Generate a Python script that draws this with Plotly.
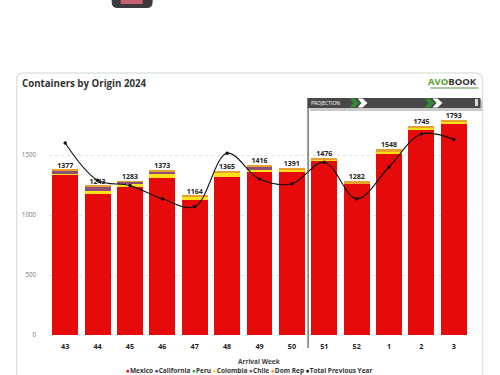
import plotly.graph_objects as go

weeks = ["43", "44", "45", "46", "47", "48", "49", "50", "51", "52", "1", "2", "3"]
mexico = [1335, 1175, 1235, 1308, 1125, 1319, 1365, 1365, 1450, 1260, 1515, 1715, 1765]
california = [3, 0, 0, 0, 0, 0, 0, 0, 0, 0, 0, 0, 0]
peru = [0, 0, 0, 0, 0, 0, 0, 0, 0, 0, 0, 0, 0]
colombia = [4, 25, 25, 32, 30, 27, 8, 10, 10, 6, 12, 10, 8]
chile = [28, 35, 15, 22, 0, 0, 30, 0, 0, 0, 0, 0, 0]
dom_rep = [7, 8, 8, 11, 9, 19, 13, 16, 16, 16, 21, 20, 20]
totals = [1377, 1243, 1283, 1373, 1164, 1365, 1416, 1391, 1476, 1282, 1548, 1745, 1793]
previous_year = [1600, 1290, 1245, 1135, 1070, 1515, 1300, 1260, 1440, 1135, 1400, 1675, 1630]

series = [
    ("Mexico", mexico, "#e60a0a"),
    ("California", california, "#3a3fc4"),
    ("Peru", peru, "#3fae49"),
    ("Colombia", colombia, "#ffe11a"),
    ("Chile", chile, "#8d4f78"),
    ("Dom Rep", dom_rep, "#e8a030"),
]
FONT = "Open Sans"
L, R, T, B = 49.3, 29.5, 90, 40
W, H = 500, 375
PW, PH = W - L - R, H - T - B


def px(x):
    return (x - L) / PW


def py(y):
    return 1 - (y - T) / PH


def path(points):
    return "M" + " L".join(f"{px(x):.4f},{py(y):.4f}" for x, y in points) + " Z"


def rect(x0, y0, x1, y1, fill, layer="above", line=None):
    return dict(type="rect", xref="paper", yref="paper", x0=px(x0), x1=px(x1), y0=py(y0), y1=py(y1),
                fillcolor=fill, line=dict(width=0 if line is None else 1, color=line or fill), layer=layer)


def chevron(x, fill):
    return dict(type="path", xref="paper", yref="paper", layer="above", fillcolor=fill, line=dict(width=0),
                path=path([(x, 98.5), (x + 5, 98.5), (x + 10, 103), (x + 5, 107.5), (x, 107.5), (x + 4, 103)]))


def rounded(x0, y0, x1, y1, r):
    return ("M" + f"{px(x0 + r):.4f},{py(y0):.4f} L{px(x1 - r):.4f},{py(y0):.4f} "
            f"Q{px(x1):.4f},{py(y0):.4f} {px(x1):.4f},{py(y0 + r):.4f} "
            f"L{px(x1):.4f},{py(y1 - r):.4f} Q{px(x1):.4f},{py(y1):.4f} {px(x1 - r):.4f},{py(y1):.4f} "
            f"L{px(x0 + r):.4f},{py(y1):.4f} Q{px(x0):.4f},{py(y1):.4f} {px(x0):.4f},{py(y1 - r):.4f} "
            f"L{px(x0):.4f},{py(y0 + r):.4f} Q{px(x0):.4f},{py(y0):.4f} {px(x0 + r):.4f},{py(y0):.4f} Z")


fig = go.Figure()
for name, vals, color in series:
    fig.add_bar(x=weeks, y=vals, name=name, marker=dict(color=color, line=dict(width=0)), showlegend=False)
fig.add_scatter(x=weeks, y=previous_year, name="Total Previous Year", mode="lines+markers",
                line=dict(color="#111111", width=1.1, shape="spline", smoothing=1.0),
                marker=dict(color="#111111", size=3.5), showlegend=False)
fig.add_scatter(x=weeks, y=totals, mode="text", text=[str(t) for t in totals], textposition="top center",
                textfont=dict(family=FONT, size=7, color="#222222", weight="bold"), showlegend=False,
                hoverinfo="skip")

shapes = [
    dict(type="path", xref="paper", yref="paper", layer="below", fillcolor="white",
         line=dict(color="#dde5df", width=1.5), path=rounded(17, 73, 483, 420, 7)),
    dict(type="path", xref="paper", yref="paper", layer="below", fillcolor="#3c3a3e",
         line=dict(width=0), path=rounded(112, -12, 153, 8, 6)),
    rect(121, -5, 143, 4, "#c9606f", "above"),
    rect(310, 100, 483, 111, "#c9c9c9"),
    dict(type="line", xref="x", yref="paper", x0=7.5, x1=7.5, y0=py(98), y1=py(348),
         line=dict(color="#555555", width=1.2), layer="above"),
    rect(308, 98, 481, 108, "#484848"),
    chevron(350, "#2e8b36"), chevron(358, "#ffffff"), chevron(425, "#2e8b36"), chevron(433, "#ffffff"),
    rect(475.5, 99, 478.5, 106, "#d8d8d8"),
    rect(431, 87.5, 479, 88.5, "#5f8f4a"),
]

legend_text = " ".join(
    [f"<span style='color:{c}'>●</span>{n}" for n, _, c in series] + ["<span style='color:#111'>●</span>Total Previous Year"]
)
anns = [
    dict(text="Containers by Origin 2024", x=px(20), y=py(83.5), xanchor="left", yanchor="middle", showarrow=False,
         font=dict(family=FONT, size=9.7, color="#333333", weight="bold")),
    dict(text="PROJECTION", x=px(309), y=py(103), xanchor="left", yanchor="middle", showarrow=False,
         font=dict(family=FONT, size=5, color="#ffffff")),
    dict(text="<span style='color:#5aa02c'>AVO</span><span style='color:#333333'>BOOK</span>", x=px(480), y=py(81),
         xanchor="right", yanchor="middle", showarrow=False,
         font=dict(family=FONT, size=9.5, weight="bold")),
    dict(text="Arrival Week", x=px(260), y=py(361.5), xanchor="center", yanchor="middle", showarrow=False,
         font=dict(family=FONT, size=6.5, color="#444444", weight="bold")),
    dict(text=legend_text, x=px(249.5), y=py(370.8), xanchor="center", yanchor="middle", showarrow=False,
         borderpad=0, font=dict(family=FONT, size=6.5, color="#333333", weight="bold")),
]
anns[3]["borderpad"] = 0
for a in anns:
    a.update(xref="paper", yref="paper")

fig.update_layout(
    width=W, height=H, barmode="stack", bargap=0.2, showlegend=False,
    margin=dict(l=L, r=R, t=T, b=B, pad=0), paper_bgcolor="white", plot_bgcolor="rgba(0,0,0,0)",
    shapes=shapes, annotations=anns,
    xaxis=dict(type="category", categoryorder="array", categoryarray=weeks, range=[-0.5, 12.5], showgrid=False,
               showline=False, ticks="", ticklabelstandoff=6,
               tickfont=dict(family=FONT, size=7.2, color="#222222", weight="bold"), zeroline=False),
    yaxis=dict(range=[0, (335 - T) / 0.12], tickvals=[0, 500, 1000, 1500], showgrid=True, griddash="dot",
               gridcolor="#e2e2e2", gridwidth=1, zeroline=False, showline=False, ticks="", ticklabelstandoff=12,
               tickfont=dict(family=FONT, size=6.2, color="#777777")),
)
fig.write_html("out.html", config=dict(displayModeBar=False),
               post_script="document.body.style.margin='0';document.documentElement.style.overflow='hidden';")
